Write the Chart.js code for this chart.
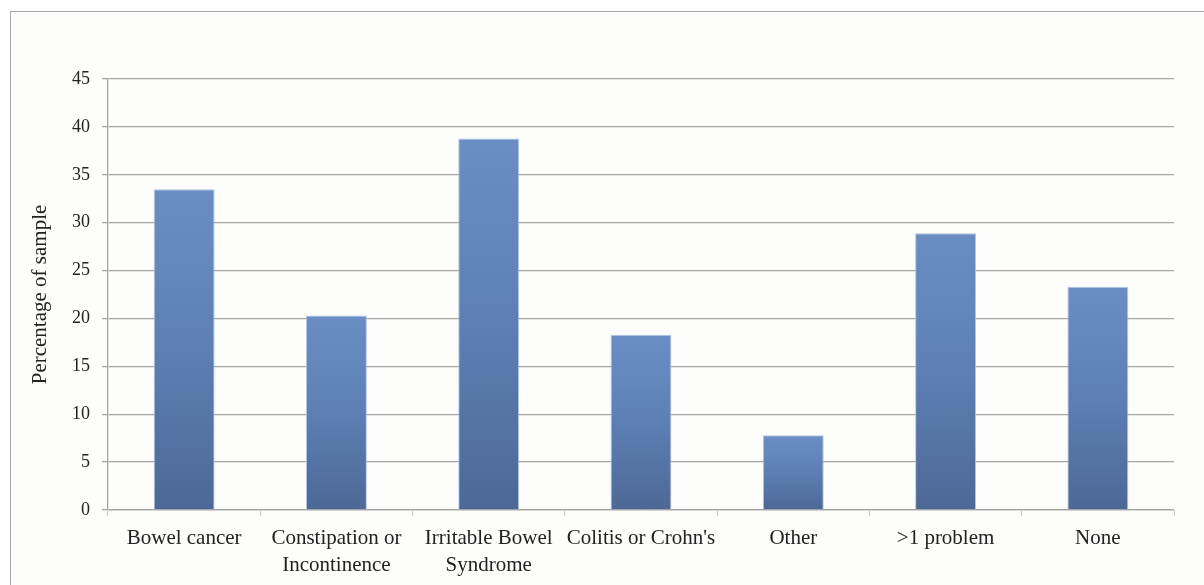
<!DOCTYPE html>
<html>
<head>
<meta charset="utf-8">
<script src="https://cdn.jsdelivr.net/npm/chart.js@4.4.1/dist/chart.umd.min.js"></script>
<style>
  html, body { margin: 0; padding: 0; background: #ffffff; }
  #wrap { position: relative; width: 1204px; height: 585px; overflow: hidden; }
  #frame { position: absolute; left: 10px; top: 11px; width: 1400px; height: 800px;
           border: 1px solid #a9a9a9; background: #fdfdfb; }
  #c { position: absolute; left: 0; top: 0; }
</style>
</head>
<body>
<div id="wrap">
  <div id="frame"></div>
  <canvas id="c" width="1204" height="585"></canvas>
</div>
<script>
const categories = [
  "Bowel cancer",
  ["Constipation or", "Incontinence"],
  ["Irritable Bowel", "Syndrome"],
  "Colitis or Crohn's",
  "Other",
  ">1 problem",
  "None"
];
const percentages = [33.5, 20.3, 38.8, 18.3, 7.8, 28.9, 23.3];
const yTicks = { min: 0, max: 45, step: 5 };
const yTitle = "Percentage of sample";

const serif = "'Liberation Serif', 'DejaVu Serif', serif";

function barGradient(context) {
  const chart = context.chart;
  const area = chart.chartArea;
  if (!area) return '#5b7fb5';
  const ys = chart.scales.y;
  const v = context.raw;
  const top = ys.getPixelForValue(v);
  const base = ys.getPixelForValue(0);
  const g = chart.ctx.createLinearGradient(0, top, 0, base);
  g.addColorStop(0, '#6a8ec4');
  g.addColorStop(0.5, '#5d7fb4');
  g.addColorStop(1, '#4d6896');
  return g;
}

new Chart(document.getElementById('c'), {
  type: 'bar',
  data: {
    labels: categories,
    datasets: [{
      data: percentages,
      backgroundColor: barGradient,
      borderColor: 'rgba(170,192,225,0.9)',
      borderWidth: 1,
      barPercentage: 0.8,
      categoryPercentage: 0.5
    }]
  },
  options: {
    responsive: false,
    animation: false,
    devicePixelRatio: 1,
    layout: { padding: { left: 0, right: 30, top: 79, bottom: 0 } },
    plugins: { legend: { display: false }, tooltip: { enabled: false } },
    scales: {
      x: {
        offset: true,
        grid: {
          display: true,
          drawOnChartArea: false,
          drawTicks: true,
          tickLength: 6,
          offset: true,
          color: '#c8c8c8'
        },
        border: { display: true, color: '#d4d4d4', width: 1 },
        ticks: {
          autoSkip: false,
          maxRotation: 0,
          minRotation: 0,
          padding: 9,
          color: '#222222',
          font: { family: serif, size: 21, lineHeight: 1.27 }
        },
        afterFit(scale) { scale.height = 75; }
      },
      y: {
        min: yTicks.min,
        max: yTicks.max,
        ticks: {
          stepSize: yTicks.step,
          padding: 12,
          color: '#222222',
          font: { family: serif, size: 18 }
        },
        grid: {
          color: '#a8a5a2',
          lineWidth: 1.3,
          tickLength: 6,
          drawTicks: true
        },
        border: { display: true, color: '#a8a5a2', width: 1.3 },
        title: {
          display: true,
          text: yTitle,
          color: '#222222',
          font: { family: serif, size: 21 },
          padding: { top: 28, bottom: 0 }
        },
        afterFit(scale) { scale.width = 108; }
      }
    }
  }
});
</script>
</body>
</html>
